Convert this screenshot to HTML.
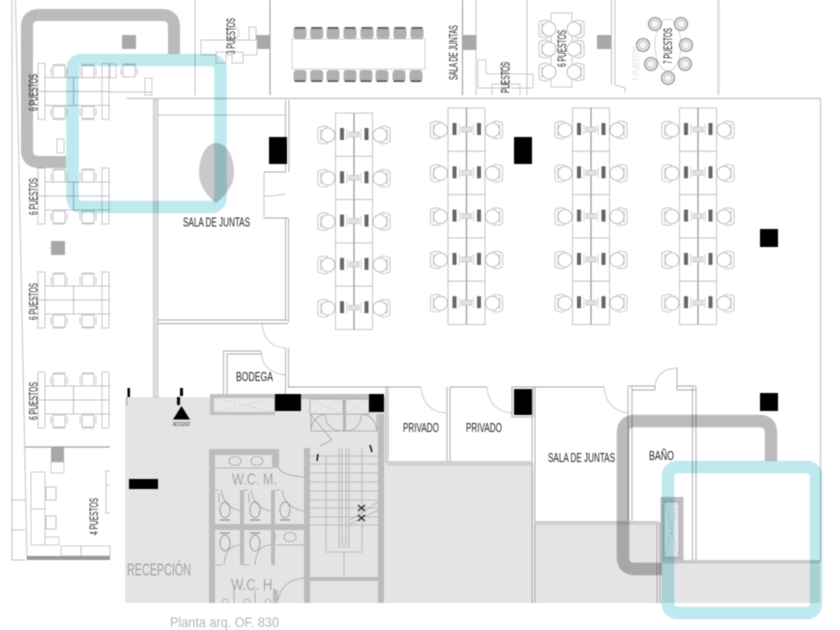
<!DOCTYPE html>
<html><head><meta charset="utf-8"><style>
html,body{margin:0;padding:0;background:#fff;width:840px;height:630px;overflow:hidden}
svg{display:block;filter:blur(.45px)}
text{font-family:"Liberation Sans",sans-serif;fill:#1e1e1e}
.m{mix-blend-mode:multiply;fill:none}
</style></head><body>
<svg width="840" height="630" viewBox="0 0 840 630" xmlns="http://www.w3.org/2000/svg">
<defs>
<g id="ch"><path d="M-9,-7V7M-9,-7Q-3,-10 1,-8M-9,7Q-3,10 1,8M-6,-6V6" fill="none" stroke="#b8b8b8" stroke-width=".8"/><circle cx="1" cy="0" r="7" fill="#fff" stroke="#aaa" stroke-width=".8"/></g>
<g id="row"><rect x="-18.500" y="0" width="37" height="43.300" fill="#fff" stroke="#c0c0c0" stroke-width=".9"/><path d="M0,0V43.300" stroke="#8a8a8a" stroke-width="1.100"/>
<rect x="-14" y="15" width="4" height="12" fill="#666"/><rect x="10.500" y="15" width="4" height="12" fill="#666"/><rect x="-5" y="19" width="10" height="5" fill="#e2e2e2" stroke="#bbb" stroke-width=".6"/><path d="M-7,16V27M7,16V27" stroke="#c8c8c8" stroke-width=".8"/>
<use href="#ch" transform="translate(-27,22)"/><use href="#ch" transform="translate(27,22) scale(-1,1)"/></g>
<g id="cl"><use href="#row"/><use href="#row" y="43.300"/><use href="#row" y="86.600"/><use href="#row" y="129.900"/><use href="#row" y="173.200"/></g>
<g id="sc"><path d="M-6,0H6V12H-6ZM-8,3V10M8,3V10M-6,-1H6" fill="#fff" stroke="#b5b5b5" stroke-width=".8"/></g>
<g id="six"><g fill="#fff" stroke="#bbb" stroke-width=".8"><rect x="38" y="0" width="7" height="56"/><rect x="102" y="0" width="7" height="56"/></g>
<path d="M45,14H110M38,28H110M45,42H110M73.500,14V42" stroke="#b0b0b0" stroke-width=".8" fill="none"/>
<use href="#sc" x="59" y="2"/><use href="#sc" x="88" y="2"/><use href="#sc" transform="translate(59,55) scale(1,-1)"/><use href="#sc" transform="translate(88,55) scale(1,-1)"/></g>
<g id="mc"><rect x="-6.500" y="0" width="13" height="12" rx="3" fill="#b0b0b0"/><rect x="-5.500" y="0" width="11" height="1.800" rx=".8" fill="#5a5a5a"/></g>
<g id="rc"><circle r="6.500" fill="#e6e6e6" stroke="#888" stroke-width="1.100"/><circle r="3.800" fill="#f6f6f6" stroke="#aaa" stroke-width=".6"/></g>
<g id="tl"><ellipse cx="0" cy="0" rx="5" ry="8" fill="none" stroke="#999" stroke-width=".9"/><path d="M-5,10H5" stroke="#888" stroke-width="1.100"/></g>
</defs>

<!-- grey floor -->
<rect x="125" y="397" width="535" height="206" fill="#e4e4e4"/>
<rect x="660" y="563" width="160" height="40" fill="#e4e4e4"/>
<!-- white rooms -->
<rect x="386" y="388" width="148" height="75" fill="#fff"/>
<rect x="534" y="388" width="95" height="134" fill="#fff"/>
<rect x="629" y="388" width="31" height="134" fill="#fff"/>
<rect x="660" y="388" width="160" height="174" fill="#fff"/>

<!-- outer perimeter lines -->
<path d="M12,0V560M15.500,0L27,560M11,560H25M11,500H25M11,530H25" stroke="#c4c4c4" stroke-width="1" fill="none"/>
<path d="M195,0V95M476,0V95" stroke="#c4c4c4" stroke-width="1"/>
<path d="M270,0V95M462.500,0V95" stroke="#a5a5a5" stroke-width="1.200"/>
<path d="M527,0V95M611.500,0V85M615,0V85L625,88L625,92" stroke="#c4c4c4" stroke-width="1" fill="none"/>
<path d="M718.500,0V95" stroke="#ddd" stroke-width="2.500"/>
<path d="M127,98.500H820" stroke="#d4d4d4" stroke-width="2"/>
<path d="M820.500,98V562" stroke="#cfcfcf" stroke-width="1.500"/>

<!-- columns -->
<g fill="#a8a8a8"><rect x="122" y="35" width="14" height="14"/><rect x="256" y="35" width="14" height="14"/><rect x="462.500" y="35" width="14" height="15"/><rect x="597" y="35" width="14" height="14"/><rect x="51" y="241" width="14" height="14"/><rect x="51" y="447" width="13" height="15"/></g>

<!-- top: meeting table -->
<rect x="292" y="39" width="133" height="30" fill="#fff" stroke="#d4d4d4"/>
<g><use href="#mc" x="300" y="27"/><use href="#mc" x="316.700" y="27"/><use href="#mc" x="333" y="27"/><use href="#mc" x="350" y="27"/><use href="#mc" x="367" y="27"/><use href="#mc" x="383" y="27"/><use href="#mc" x="400" y="27"/><use href="#mc" x="417" y="27"/>
<use href="#mc" transform="translate(300,82) scale(1,-1)"/><use href="#mc" transform="translate(316.700,82) scale(1,-1)"/><use href="#mc" transform="translate(333,82) scale(1,-1)"/><use href="#mc" transform="translate(350,82) scale(1,-1)"/><use href="#mc" transform="translate(366,82) scale(1,-1)"/><use href="#mc" transform="translate(382,82) scale(1,-1)"/><use href="#mc" transform="translate(399,82) scale(1,-1)"/><use href="#mc" transform="translate(416,82) scale(1,-1)"/></g>

<!-- 3 puestos -->
<g fill="#fff" stroke="#c4c4c4" stroke-width=".9"><rect x="201" y="40" width="56" height="15"/><rect x="216" y="52" width="10" height="11"/><rect x="232" y="52" width="11" height="11"/><rect x="249" y="27" width="7" height="13"/><circle cx="233" cy="33" r="6" fill="none"/></g>
<g fill="none" stroke="#c8c8c8" stroke-width=".9"><path d="M478,60H486V74M478,60V88H533V74H486M492,95V84H520V95"/><circle cx="505" cy="67" r="5"/></g>
<!-- 6 puestos table -->
<rect x="551" y="13" width="21" height="74" fill="#fff" stroke="#c4c4c4" stroke-width=".9"/>
<g transform="translate(548,29)"><use href="#ch"/></g><g transform="translate(548,49)"><use href="#ch"/></g><g transform="translate(548,72)"><use href="#ch"/></g>
<g transform="translate(575,29) scale(-1,1)"><use href="#ch"/></g><g transform="translate(575,49) scale(-1,1)"><use href="#ch"/></g><g transform="translate(575,72) scale(-1,1)"><use href="#ch"/></g>
<!-- 7 puestos table -->
<ellipse cx="668" cy="45" rx="13" ry="26" fill="#fff" stroke="#d4d4d4" stroke-width=".9"/>
<use href="#rc" x="655" y="24"/><use href="#rc" x="681" y="24"/><use href="#rc" x="643" y="45"/><use href="#rc" x="686" y="45"/><use href="#rc" x="651" y="64"/><use href="#rc" x="685" y="64"/><use href="#rc" x="668" y="78"/>

<!-- left desks -->
<use href="#six" y="63.500"/><use href="#six" y="168"/><use href="#six" y="272"/><use href="#six" y="372"/>
<g fill="#fff" stroke="#c0c0c0" stroke-width=".8"><rect x="110" y="64" width="6" height="14"/><rect x="145" y="78" width="7" height="17"/><rect x="57" y="139" width="7" height="14"/></g>
<use href="#sc" x="129" y="65"/>
<path d="M110,92H152" stroke="#b0b0b0" stroke-width=".8"/>

<!-- 4 puestos room -->
<path d="M25,447H110" stroke="#a0a0a0" stroke-width="1.200"/>
<g fill="#fff" stroke="#c0c0c0" stroke-width=".8"><rect x="51" y="462" width="13" height="11"/><rect x="31" y="472" width="14" height="37"/><rect x="31" y="509" width="14" height="36"/><rect x="45" y="537" width="14" height="8"/><rect x="61" y="546" width="20" height="10"/><rect x="81" y="546" width="29" height="10"/></g>
<g fill="#fff" stroke="#b5b5b5" stroke-width=".8"><rect x="46" y="487" width="10" height="13"/><rect x="46" y="516" width="10" height="13"/><path d="M56,489V498M56,518V527M110,471H106V513H110M106,485H110"/></g>
<rect x="27" y="556" width="83" height="4" fill="#999"/>

<!-- main plan walls -->
<rect x="153.500" y="100" width="4.500" height="297" fill="#e0e0e0" stroke="#b0b0b0" stroke-width=".6"/>
<path d="M158,115H286" stroke="#c4c4c4" stroke-width="1"/>
<g stroke="#a8a8a8" stroke-width=".9" fill="none">
<path d="M285.500,100V172H264M289,100V172"/>
<path d="M264,172V196Q275,196 285,194M264,218V196Q275,196 285,194" stroke="#c4c4c4"/>
<path d="M285.500,218V321M288.500,218V322M264,218H288"/>
<path d="M158,320H287M158,323.500H288"/>
<path d="M262,324Q264,346 285,348" stroke="#c4c4c4"/>
<path d="M285.500,348V394M288.500,348V388"/>
<path d="M223.500,394V351H261M227,394V354H261M223.500,351V354M261,351V354"/>
<path d="M261,351Q262,372 285,375" stroke="#c4c4c4"/>
<path d="M288,387H386"/>
<path d="M386,387V463M388,387V463M447,387V463M450,387V463"/>
<path d="M386,387H421M450,387H487M534,387H604M512,387H534"/>
<path d="M421,387Q423,411 446,413M487,387Q489,411 512,413M604,387Q606,410 628,413" stroke="#c4c4c4"/>
<path d="M532,387V603M535,387V603"/>
<path d="M628,387V522M632,387V522M692.500,387V562M696,387V562"/>
<path d="M628,386H655V390H632M677,386V368M677,386H696M677,390H696M677,386V390"/>
<path d="M677,368Q657,369 655,386" stroke="#c4c4c4"/>
<path d="M657,523V603M660,523V603"/>
</g>
<rect x="387" y="461" width="145" height="4.500" fill="#cfcfcf"/>
<rect x="535" y="521" width="124" height="4" fill="#cfcfcf"/>
<rect x="660" y="560" width="160" height="3.500" fill="#c8c8c8"/>
<rect x="512" y="387" width="21" height="30" fill="#fff" stroke="#a8a8a8"/>

<!-- desk clusters -->
<use href="#cl" x="354" y="113"/><use href="#cl" x="466.500" y="108"/><use href="#cl" x="591" y="108"/><use href="#cl" x="698" y="108"/>

<!-- elevator shafts -->
<rect x="210" y="394" width="65" height="21" fill="#c0c0c0"/>
<rect x="214" y="398" width="60" height="14" fill="#e8e8e8"/>
<path d="M214,398L274,412M214,412L274,398" stroke="#d0d0d0" stroke-dasharray="3 2" stroke-width=".7"/>
<rect x="301" y="394" width="68" height="5" fill="#c0c0c0"/>
<rect x="310" y="399" width="33" height="15" fill="#e8e8e8" stroke="#b0b0b0"/>
<rect x="345" y="399" width="24" height="15" fill="#e8e8e8" stroke="#b0b0b0"/>
<rect x="343" y="399" width="3" height="33" fill="#b5b5b5"/>
<path d="M310,399L343,414M310,414L343,399M345,399L369,414M345,414L369,399" stroke="#d0d0d0" stroke-dasharray="3 2" stroke-width=".7"/>
<g fill="none" stroke="#a5a5a5" stroke-width=".8"><path d="M311,414V431H343M325,414Q326,431 343,431M326,414Q312,416 311,431M345,431H377V414M345,431Q360,431 362,414M362,414Q375,416 377,431"/><path d="M310,414L332,440L320,446"/></g>

<!-- washrooms -->
<g fill="#bcbcbc">
<rect x="209" y="449" width="6" height="154"/><rect x="209" y="449" width="70" height="6"/><rect x="272" y="449" width="7" height="19"/>
<rect x="209" y="524" width="100" height="6"/><rect x="304" y="448" width="6" height="155"/><rect x="378" y="414" width="6" height="189"/>
<rect x="310" y="577" width="68" height="4"/>
<rect x="240" y="490" width="4" height="75"/><rect x="271" y="490" width="4" height="35"/><rect x="271" y="530" width="4" height="35"/><rect x="273" y="590" width="5" height="13"/>
</g>
<g fill="none" stroke="#a5a5a5" stroke-width=".8">
<path d="M215,468H272M279,468Q281,475 304,477M215,490H218M244,490H248M275,490H280"/>
<path d="M221,490Q224,508 241,511M251,490Q254,508 271,511M282,490Q285,508 304,511"/>
<path d="M215,565H222M241,545Q225,545 224,565M271,545Q256,545 255,565M244,565H250"/>
<path d="M278,600Q282,580 304,578"/>
<path d="M275,545H304M275,533V542M219,503V493M249,503V493"/>
<ellipse cx="235" cy="461" rx="6" ry="4.500"/><ellipse cx="257" cy="461" rx="6" ry="4.500"/><ellipse cx="290" cy="537" rx="6" ry="4.500"/>
<path d="M222,603a3,4 0 0 1 6,0M244,603a3,4 0 0 1 6,0M265,603a3,4 0 0 1 6,0M234,590V603M255,590V603"/>
</g>
<use href="#tl" x="225" y="510"/><use href="#tl" x="255" y="510"/><use href="#tl" x="285" y="510"/>
<use href="#tl" transform="translate(225,543) scale(1,-1)"/><use href="#tl" transform="translate(255,543) scale(1,-1)"/>

<!-- stairs -->
<g fill="none" stroke="#b0b0b0" stroke-width=".8">
<path d="M310,456H378M310,464H378M310,473H378M310,482H378M310,491H378M310,500H378M310,508H378M310,517H378M310,525H378"/>
<path d="M326,456V552H362V448M339,448V547H349V448M342,448V544H346V448M344,552V577"/>
<path d="M350,520L378,502M350,524L378,510"/>
</g>
<path d="M358,505L365,511M365,505L358,511M358,521L365,515M365,521L358,515" stroke="#222" stroke-width="1.200"/>
<path d="M318,454L317,461M370,445L372,452" stroke="#222" stroke-width="1.600"/>

<!-- black columns -->
<g fill="#000"><rect x="269" y="137" width="18" height="27"/><rect x="514" y="137" width="18" height="27"/><rect x="760" y="229" width="18" height="18"/><rect x="760" y="393" width="18" height="18"/><rect x="275" y="394" width="26" height="17"/><rect x="369" y="394" width="15" height="18"/><rect x="514" y="389" width="18" height="26"/><rect x="129" y="479" width="29" height="10"/>
<rect x="127.500" y="388" width="2.500" height="9"/><rect x="180" y="388" width="3" height="8"/><rect x="177" y="397" width="3" height="8"/><path d="M173,419.500L181.500,406L190,419.500Z"/></g>
<path d="M127,397V406" stroke="#a5a5a5" stroke-width="1"/>

<!-- bano shaft -->
<rect x="660.500" y="497" width="23" height="64" fill="#c0c0c0"/>
<rect x="664" y="502" width="15" height="55" fill="#e8e8e8" stroke="#999" stroke-width=".6"/>
<path d="M665,503L678,556M678,503L665,556" stroke="#c0c0c0" stroke-dasharray="3 2" stroke-width=".7"/>

<!-- overlays -->
<path d="M199,173C199,155 207,143 216,143C226,143 234,155 234,173C234,186 224,197 216,203C208,197 199,186 199,173Z" class="m" style="fill:#c9c9c9"/>
<path class="m" d="M174,54V27Q174,15 162,15H39Q27,15 27,27V150Q27,162 39,162H66" stroke="#bbbbbb" stroke-width="12"/>
<path class="m" d="M771,461V433Q771,421 759,421H635Q623,421 623,433V557Q623,569 635,569H662" stroke="#bbbbbb" stroke-width="12.500"/>
<rect class="m" x="72.500" y="60" width="148" height="147" rx="9" stroke="#bee9ee" stroke-width="12.500"/>
<rect class="m" x="668" y="467" width="148" height="146" rx="9" stroke="#bee9ee" stroke-width="12.500"/>

<!-- labels -->
<g font-size="13">
<text x="183" y="226.500" textLength="67" lengthAdjust="spacingAndGlyphs">SALA DE JUNTAS</text>
<text x="236" y="381" textLength="37" lengthAdjust="spacingAndGlyphs">BODEGA</text>
<text x="403" y="432" textLength="36" lengthAdjust="spacingAndGlyphs">PRIVADO</text>
<text x="466" y="432" textLength="36" lengthAdjust="spacingAndGlyphs">PRIVADO</text>
<text x="548" y="462" textLength="67" lengthAdjust="spacingAndGlyphs">SALA DE JUNTAS</text>
<text x="649" y="460" textLength="25" lengthAdjust="spacingAndGlyphs">BAÑO</text>
</g>
<g font-size="11.500">
<text transform="translate(37.500,111) rotate(-90)" textLength="37" lengthAdjust="spacingAndGlyphs">6 PUESTOS</text>
<text transform="translate(37.500,215) rotate(-90)" textLength="37" lengthAdjust="spacingAndGlyphs">6 PUESTOS</text>
<text transform="translate(37.500,320) rotate(-90)" textLength="37" lengthAdjust="spacingAndGlyphs">6 PUESTOS</text>
<text transform="translate(37.500,420) rotate(-90)" textLength="38" lengthAdjust="spacingAndGlyphs">6 PUESTOS</text>
<text transform="translate(98,535) rotate(-90)" textLength="37" lengthAdjust="spacingAndGlyphs">4 PUESTOS</text>
<text transform="translate(235,54) rotate(-90)" textLength="36" lengthAdjust="spacingAndGlyphs">3 PUESTOS</text>
<text transform="translate(457.500,80) rotate(-90)" textLength="55" lengthAdjust="spacingAndGlyphs">SALA DE JUNTAS</text>
<text transform="translate(509.500,93) rotate(-90)" textLength="31" lengthAdjust="spacingAndGlyphs">PUESTOS</text>
<text transform="translate(566,67) rotate(-90)" textLength="37" lengthAdjust="spacingAndGlyphs">6 PUESTOS</text>
<text transform="translate(672,64) rotate(-90)" textLength="36" lengthAdjust="spacingAndGlyphs">7 PUESTOS</text>
</g>
<text transform="translate(639,81) rotate(-90)" textLength="36" lengthAdjust="spacingAndGlyphs" style="fill:#dcdcdc" font-size="9">7 PUESTOS</text>
<text x="173" y="426" font-size="5.500" textLength="17" lengthAdjust="spacingAndGlyphs">ACCESO</text>
<text x="232" y="484.500" font-size="16" textLength="45" lengthAdjust="spacingAndGlyphs" style="fill:#a5a5a5">W.C.  M.</text>
<text x="231" y="590" font-size="16" textLength="45" lengthAdjust="spacingAndGlyphs" style="fill:#a5a5a5">W.C.  H.</text>
<text x="127" y="575.500" font-size="17.500" textLength="64" lengthAdjust="spacingAndGlyphs" style="fill:#a0a0a0">RECEPCIÓN</text>
<text x="170" y="627" font-size="13.500" textLength="109" lengthAdjust="spacingAndGlyphs" style="fill:#b4b4b4">Planta arq. OF. 830</text>
</svg>
</body></html>
